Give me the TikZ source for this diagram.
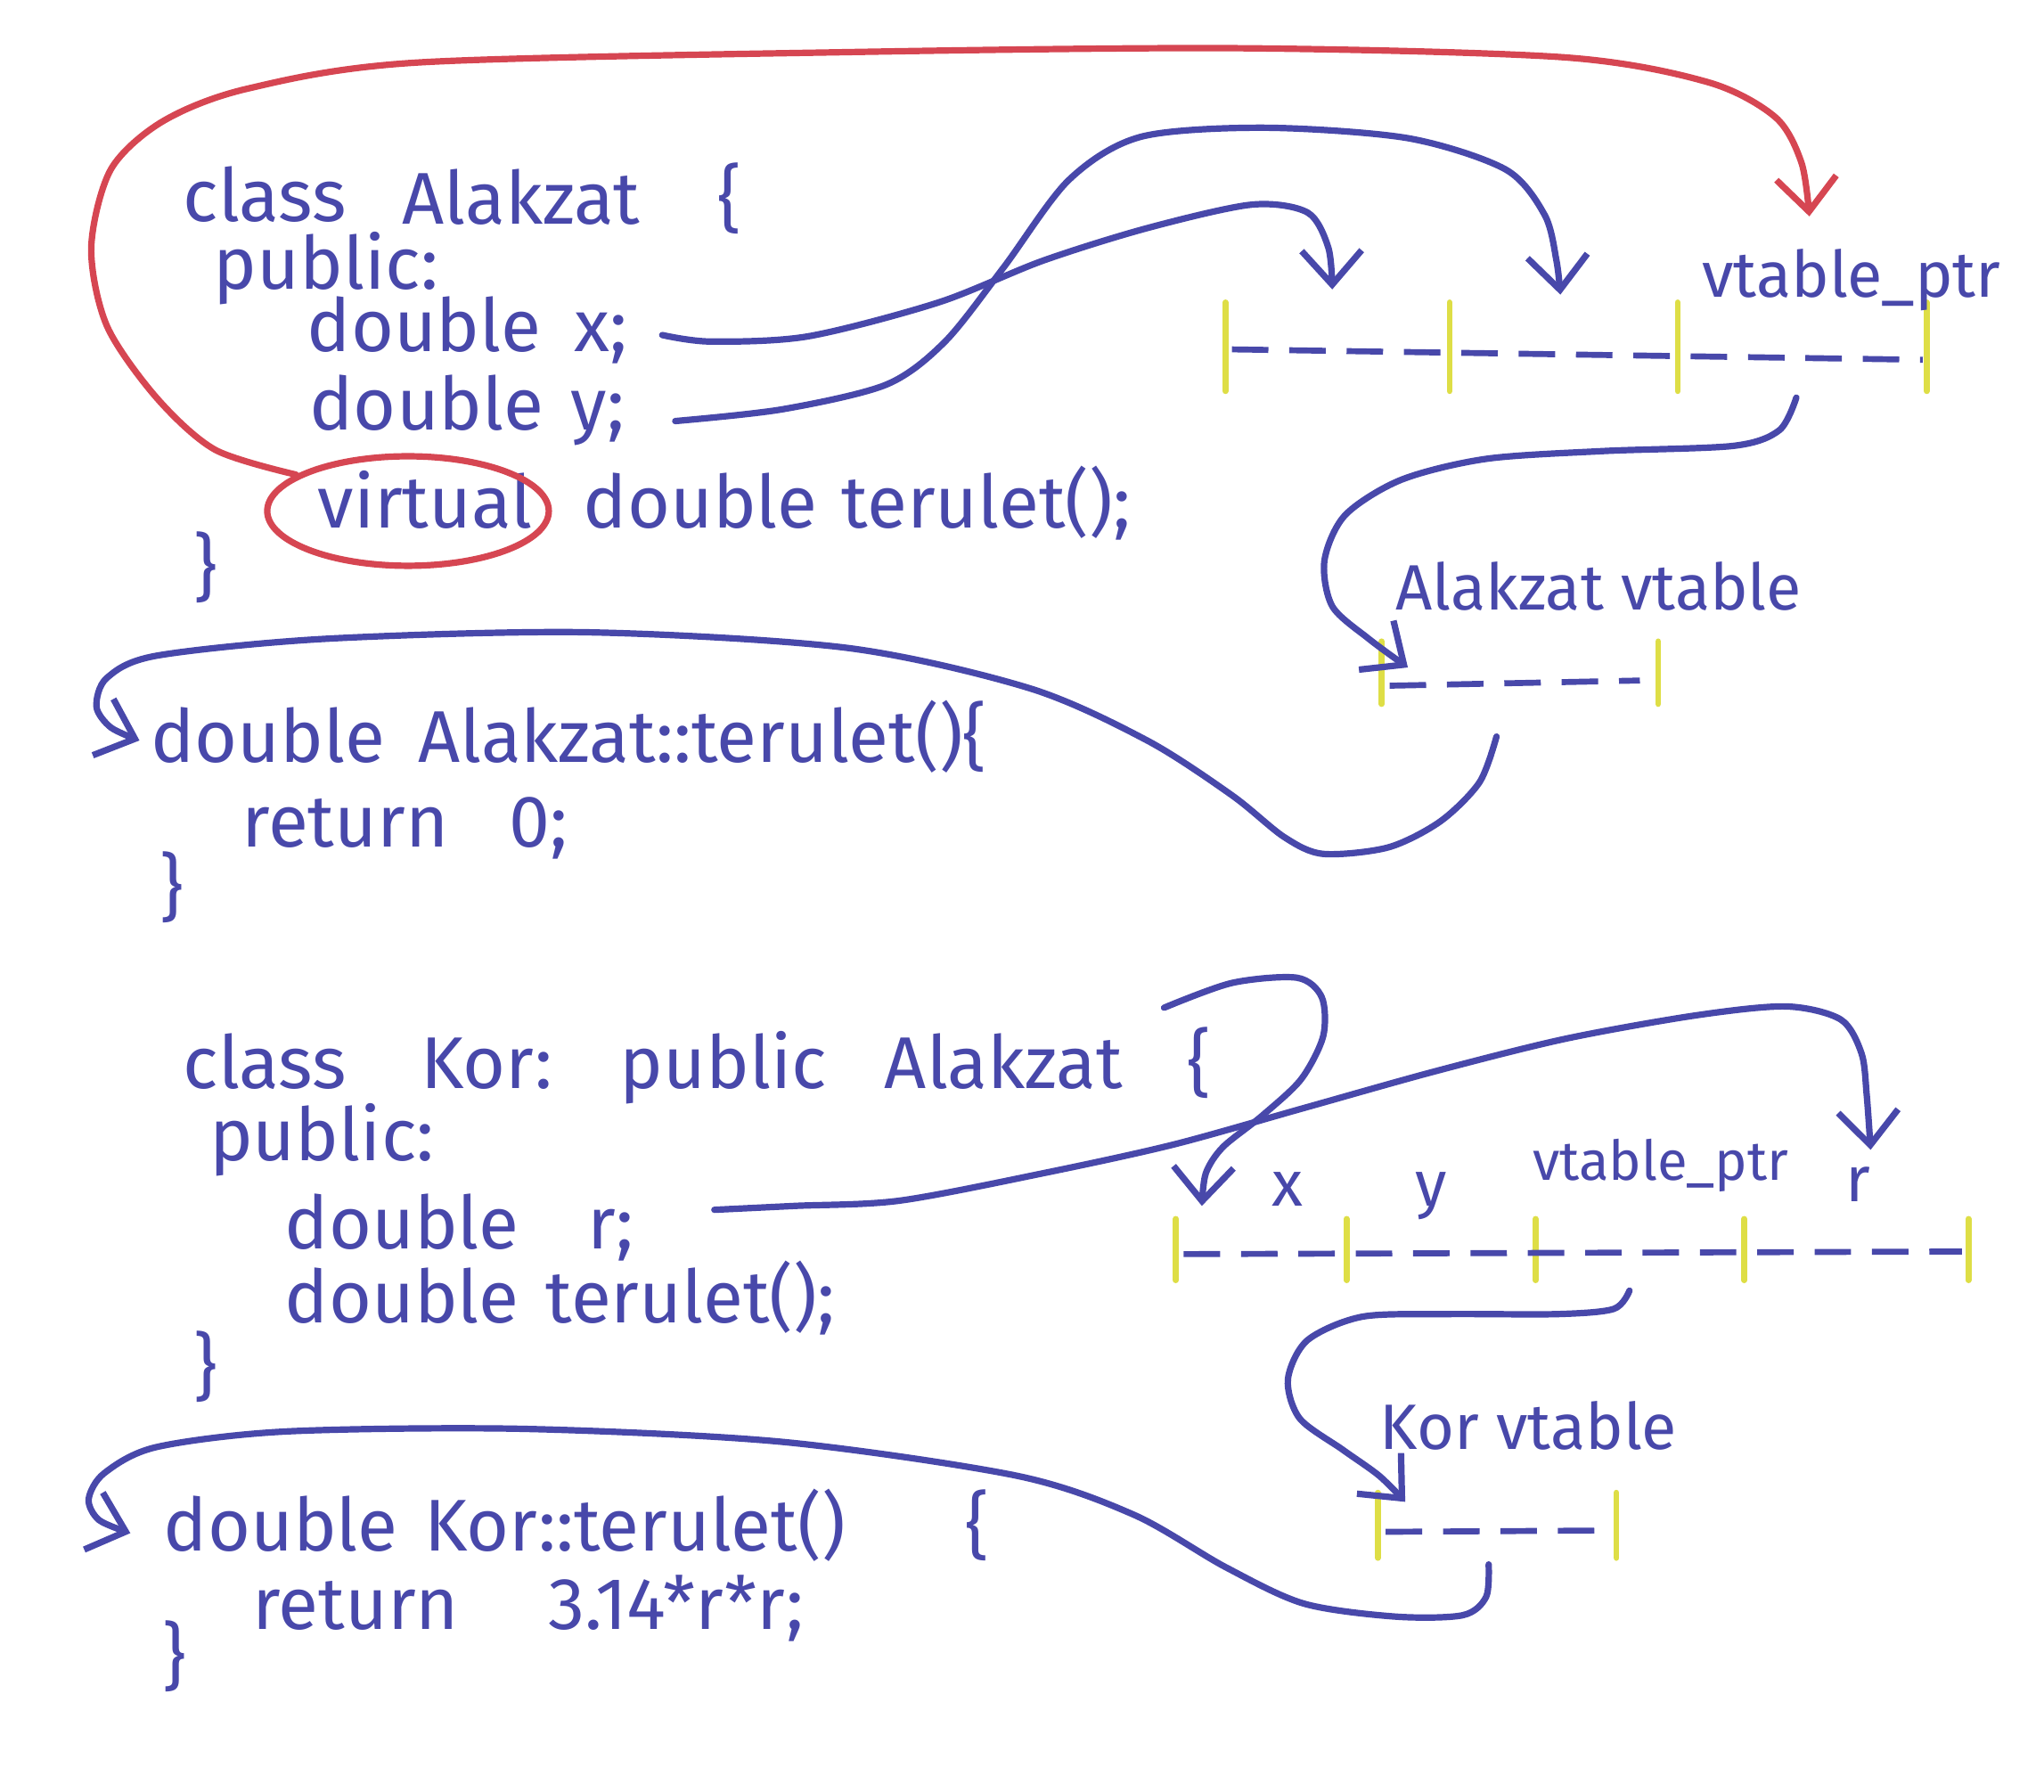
\documentclass[tikz,border=0pt]{standalone}
\usepackage{fontspec}
\setmainfont{Fira Sans}
\usetikzlibrary{arrows.meta,shapes.geometric}
\definecolor{penblue}{RGB}{72,72,170}
\definecolor{penred}{RGB}{214,70,82}
\definecolor{penyellow}{RGB}{222,222,70}
\tikzset{
  code/.style={anchor=base west, inner sep=0pt, text=penblue, font=\fontsize{16}{18}\selectfont},
  lbl/.style={code, font=\fontsize{14}{16}\selectfont},
  ptr/.style={penblue, line width=1.4pt, line cap=round, -{Straight Barb[length=2.6mm,width=4.6mm]}},
  slot/.style={penblue, line width=1.3pt, dash pattern=on 2.8mm off 1.6mm},
  tick/.style={penyellow, line width=1.3pt, line cap=round}
}
\begin{document}
\begin{tikzpicture}[x=0.1mm, y=-0.1mm]
\useasboundingbox (0,0) rectangle (1568,1374);

% class Alakzat
\node[code] (acls) at (140,170) {class};
\node[code] (aname) at (308,172) {Alakzat};
\node[code] (aopen) at (550,172) {\{};
\node[code] (apub) at (163,222) {public:};
\node[code] (adx) at (235,270) {double};
\node[code] (adxv) at (440,270) {x;};
\node[code] (ady) at (237,330) {double};
\node[code] (adyv) at (437,330) {y;};
\node[code] (virt) at (243,405) {virtual};
\node[code] (afun) at (447,405) {double};
\node[code] (afunv) at (645,405) {terulet();};
\node[code] (aend) at (148,455) {\}};
\node[draw=penred, line width=1.4pt, ellipse, minimum width=21.6mm, minimum height=8.4mm] (ring) at (313,392) {};

\node[code] (aimpl) at (115,585) {double};
\node[code] (aimplv) at (320,585) {Alakzat::terulet()\{};
\node[code] (aret) at (185,650) {return};
\node[code] (aretv) at (390,650) {0;};
\node[code] (aimplend) at (122,700) {\}};

% Alakzat objektum
\foreach \t in {940,1112,1287,1478} \draw[tick] (\t,232) -- (\t,300);
\draw[slot] (945,268) -- (1475,276);
\node[lbl] (aptrl) at (1305,228) {vtable\_ptr};
\coordinate (ax) at (1022,222);
\coordinate (ay) at (1197,226);
\coordinate (aptr) at (1388,166);

% Alakzat vtable
\node[lbl] (avtl) at (1070,468) {Alakzat vtable};
\foreach \t in {1060,1272} \draw[tick] (\t,492) -- (\t,540);
\draw[slot] (1066,526) -- (1258,522);
\coordinate (avt) at (1080,512);

% class Kor
\node[code] (kcls) at (140,835) {class};
\node[code] (kname) at (322,835) {Kor:};
\node[code] (kpubl) at (475,835) {public};
\node[code] (kbase) at (678,835) {Alakzat};
\node[code] (kopen) at (910,835) {\{};
\node[code] (kpub) at (160,890) {public:};
\node[code] (kdr) at (218,958) {double};
\node[code] (kdrv) at (450,958) {r;};
\node[code] (kfun) at (218,1015) {double};
\node[code] (kfunv) at (418,1015) {terulet();};
\node[code] (kend) at (148,1068) {\}};

\node[code] (kimpl) at (125,1190) {double};
\node[code] (kimplv) at (325,1190) {Kor::terulet()};
\node[code] (kimplo) at (740,1190) {\{};
\node[code] (kret) at (193,1250) {return};
\node[code] (kretv) at (420,1250) {3.14*r*r;};
\node[code] (kimplend) at (124,1290) {\}};

% Kor objektum
\foreach \t in {902,1033,1178,1338,1510} \draw[tick] (\t,935) -- (\t,982);
\draw[slot] (908,962) -- (1505,960);
\node[lbl] (kxl) at (975,925) {x};
\node[lbl] (kyl) at (1085,925) {y};
\node[lbl, font=\fontsize{12}{14}\selectfont] (kptrl) at (1175,905) {vtable\_ptr};
\node[lbl] (krl) at (1415,922) {r};
\coordinate (kx) at (922,925);
\coordinate (kr) at (1435,882);

% Kor vtable
\node[lbl] (kvtl) at (1058,1112) {Kor vtable};
\foreach \t in {1057,1240} \draw[tick] (\t,1145) -- (\t,1195);
\draw[slot] (1063,1175) -- (1232,1174);
\coordinate (kvt) at (1078,1152);

% nyilak
\draw[ptr, penred] plot[smooth] coordinates {(ring.162) (165,345) (120,305) (82,250) (70,190) (85,130) (125,93) (190,68) (320,48) (650,40) (950,37) (1200,44) (1310,63) (1362,90) (1382,125) (aptr)};
\draw[ptr] plot[smooth] coordinates {(508,257) (545,262) (620,258) (720,232) (800,200) (880,175) (960,157) (1003,163) (1019,190) (ax)};
\draw[ptr] plot[smooth] coordinates {(518,323) (600,314) (680,295) (725,262) (770,205) (820,138) (875,105) (970,98) (1080,106) (1155,130) (1185,165) (1194,200) (ay)};
\draw[ptr] plot[smooth] coordinates {(1378,305) (1365,330) (1330,342) (1230,346) (1140,352) (1075,368) (1032,395) (1016,430) (1022,465) (1050,490) (avt)};
\draw[ptr] plot[smooth] coordinates {(1148,565) (1135,600) (1105,630) (1065,650) (1015,655) (985,642) (945,610) (880,568) (790,528) (650,497) (450,485) (250,490) (120,503) (82,520) (74,542) (85,558) (107,568)};
\draw[ptr] plot[smooth] coordinates {(893,773) (945,754) (995,750) (1014,765) (1015,795) (998,828) (968,856) (938,880) (925,900) (kx)};
\draw[ptr] plot[smooth] coordinates {(548,928) (610,925) (690,921) (800,900) (900,878) (1000,850) (1100,822) (1200,797) (1300,779) (1370,772) (1412,782) (1428,808) (1432,840) (kr)};
\draw[ptr] plot[smooth] coordinates {(1250,990) (1238,1004) (1195,1008) (1110,1008) (1045,1010) (1003,1028) (988,1058) (997,1088) (1030,1112) (1058,1132) (kvt)};
\draw[ptr] plot[smooth] coordinates {(1142,1200) (1140,1225) (1122,1239) (1070,1240) (1000,1230) (940,1202) (870,1162) (780,1132) (600,1106) (400,1096) (220,1098) (120,1110) (80,1130) (68,1150) (76,1166) (100,1176)};
\end{tikzpicture}
\end{document}
